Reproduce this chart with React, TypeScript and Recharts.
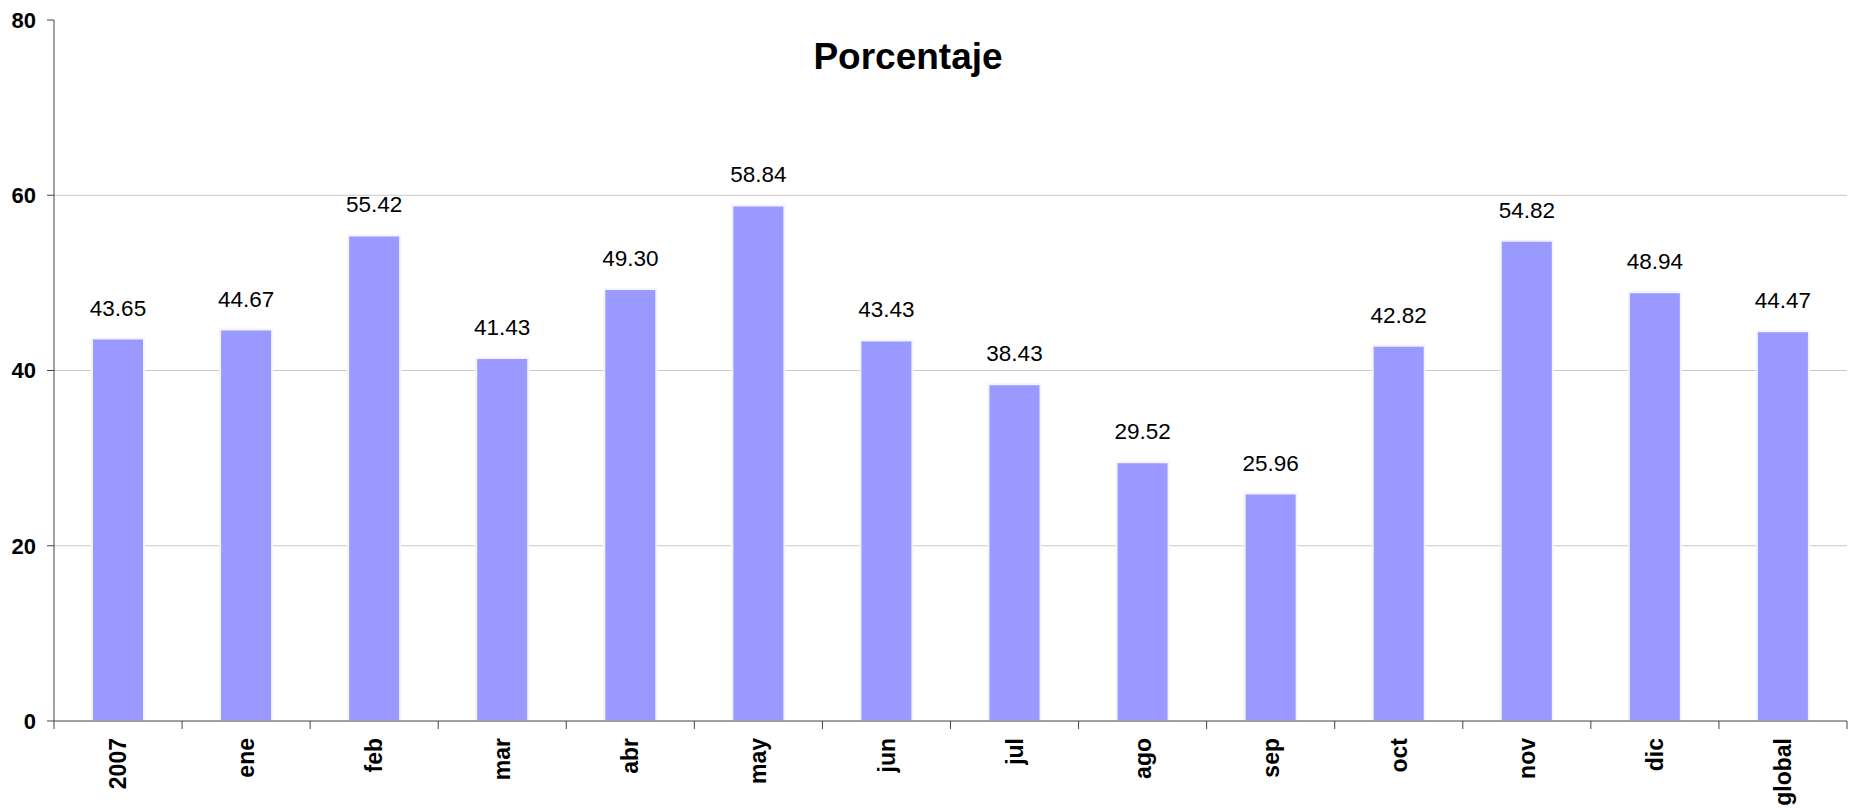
import { BarChart, Bar, XAxis, YAxis, CartesianGrid, LabelList } from "recharts";

const categories = ["2007", "ene", "feb", "mar", "abr", "may", "jun", "jul", "ago", "sep", "oct", "nov", "dic", "global"];
const percentages = [43.65, 44.67, 55.42, 41.43, 49.3, 58.84, 43.43, 38.43, 29.52, 25.96, 42.82, 54.82, 48.94, 44.47];
const yTicks = [0, 20, 40, 60, 80];
const gridValues = [20, 40, 60];

const FONT = '"Liberation Sans", Arial, sans-serif';
const AXIS_COLOR = "#444";

document.body.style.margin = "0";

const data = categories.map((name, i) => ({ name, value: percentages[i] }));

// category labels, plus tick marks on the band edges (between categories)
const CategoryTick = ({ x, y, payload, index }: any) => {
  const half = payload.offset ?? 0;
  const axisY = y - 10;
  const last = index === categories.length - 1;
  return (
    <g>
      <line x1={x - half} x2={x - half} y1={axisY} y2={axisY + 8} stroke={AXIS_COLOR} />
      {last && <line x1={x + half} x2={x + half} y1={axisY} y2={axisY + 8} stroke={AXIS_COLOR} />}
      <text
        x={x}
        y={y + 7}
        transform={`rotate(-90, ${x}, ${y + 7})`}
        textAnchor="end"
        dy="0.35em"
        fontFamily={FONT}
        fontWeight="bold"
        fontSize={23}
        fill="#000"
      >
        {payload.value}
      </text>
    </g>
  );
};

const ValueLabel = ({ x, y, width, value }: any) => (
  <text
    x={x + width / 2}
    y={y - 23}
    textAnchor="middle"
    fontFamily={FONT}
    fontSize={22.5}
    fill="#000"
  >
    {Number(value).toFixed(2)}
  </text>
);

export default function App() {
  return (
    <div style={{ position: "relative", width: 1853, height: 812, background: "#fff" }}>
      <div
        style={{
          position: "absolute",
          left: 908 - 150,
          width: 300,
          top: 38,
          textAlign: "center",
          fontFamily: FONT,
          fontWeight: "bold",
          fontSize: 37,
          lineHeight: "37px",
          color: "#000",
        }}
      >
        Porcentaje
      </div>
      <BarChart
        width={1853}
        height={812}
        data={data}
        margin={{ top: 20, right: 6, bottom: 0, left: 0 }}
        barSize={52}
      >
        <CartesianGrid vertical={false} horizontalValues={gridValues} stroke="#c8c8c8" />
        <XAxis
          dataKey="name"
          height={91}
          interval={0}
          axisLine={{ stroke: AXIS_COLOR }}
          tickLine={false}
          tickSize={8}
          tick={<CategoryTick />}
        />
        <YAxis
          width={54}
          domain={[0, 80]}
          ticks={yTicks}
          interval={0}
          axisLine={{ stroke: AXIS_COLOR }}
          tickLine={{ stroke: AXIS_COLOR }}
          tickSize={7}
          tickMargin={11}
          tick={{ fontFamily: FONT, fontWeight: "bold", fontSize: 22, fill: "#000" }}
        />
        <Bar dataKey="value" fill="#9999ff" stroke="#f4f4ff" strokeWidth={2} isAnimationActive={false}>
          <LabelList dataKey="value" content={<ValueLabel />} />
        </Bar>
      </BarChart>
    </div>
  );
}
